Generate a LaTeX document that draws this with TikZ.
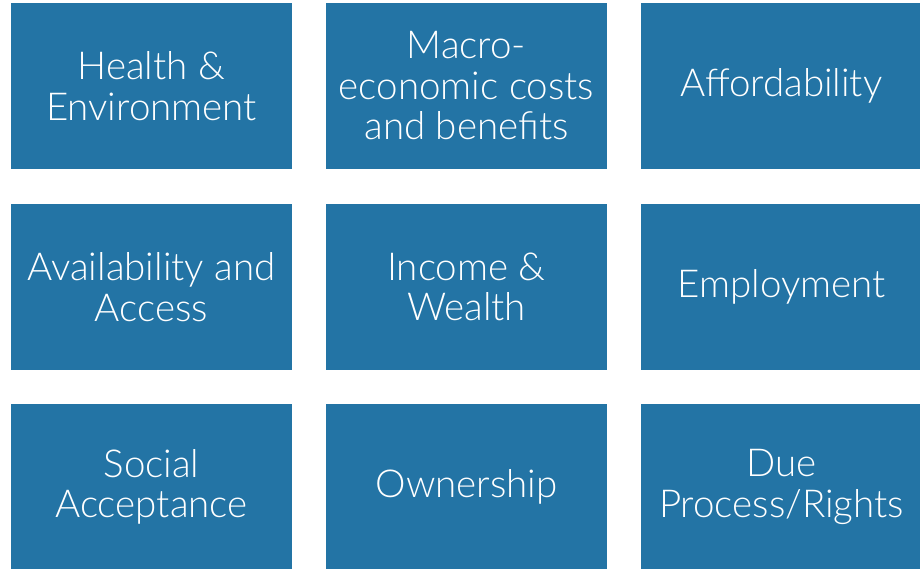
\documentclass[tikz,border=0pt]{standalone}
\usepackage{fontspec}
\setmainfont{Lato Light}
\definecolor{boxblue}{RGB}{35,116,165}
\tikzset{
  tile/.style={fill=boxblue, draw=none, minimum width=281pt, minimum height=166pt,
    inner sep=0pt, text=white, align=center,
    font=\fontsize{38.5}{40.5}\selectfont}
}
\begin{document}
\begin{tikzpicture}[x=1pt,y=1pt]
\useasboundingbox (0,0) rectangle (920,-568);
\fill[white] (0,0) rectangle (920,-568);
\node[tile] (he) at (151.5,-86) {Health \&\\Environment};
\node[tile] (me) at (466.5,-86) {Macro-\\economic costs\\and benefits};
\node[tile] (af) at (781.5,-86) {Affordability};
\node[tile] (aa) at (151.5,-287) {Availability and\\Access};
\node[tile] (iw) at (466.5,-287) {Income \&\\Wealth};
\node[tile] (em) at (781.5,-287) {Employment};
\node[tile] (sa) at (151.5,-487) {Social\\Acceptance};
\node[tile] (ow) at (466.5,-487) {Ownership};
\node[tile] (dp) at (781.5,-487) {Due\\Process/Rights};
\end{tikzpicture}
\end{document}
